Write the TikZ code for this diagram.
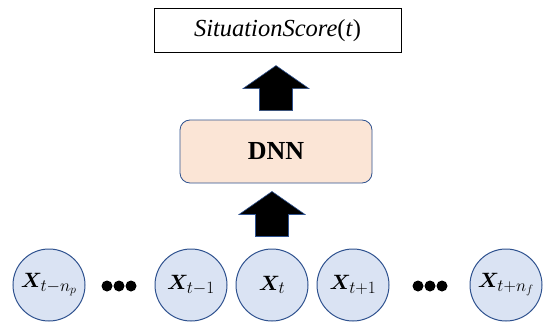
\documentclass[tikz,border=0pt]{standalone}
\usepackage{amsmath}
\usepackage{bm}
\usepackage{fontspec}
\setmainfont{Liberation Serif}
\usetikzlibrary{calc}
\DeclareMathSizes{20}{20}{16.5}{13}
\definecolor{circfill}{HTML}{DAE3F3}
\definecolor{darkblue}{HTML}{2F528F}
\definecolor{dnnfill}{HTML}{FBE5D6}
\begin{document}
\begin{tikzpicture}[x=1pt,y=1pt,
  scorebox/.style={draw=black,line width=1pt,fill=white,minimum width=247pt,minimum height=44pt,inner sep=0pt},
  dnnbox/.style={draw=darkblue,line width=0.8pt,fill=dnnfill,rounded corners=10pt,minimum width=192pt,minimum height=63pt,inner sep=0pt,font=\fontsize{26}{30}\selectfont\bfseries},
  xnode/.style={circle,draw=darkblue,line width=1pt,fill=circfill,minimum size=72pt,inner sep=0pt,font=\fontsize{20}{24}\selectfont},
  fatarrow/.style={fill=black,draw=darkblue,line width=0.6pt,line join=miter},
  dotnode/.style={circle,fill=black,minimum size=11pt,inner sep=0pt}
]
\useasboundingbox (0,0) rectangle (543,322);
\node[scorebox] (score) at (277.5,291) {\fontsize{24.5}{28}\selectfont\itshape SituationScore\textup{(}t\textup{)}};
\node[dnnbox] (dnn) at (276,170.5) {DNN};
\node[xnode] (x1) at (49,37) {$\bm{X}_{t-n_p}$};
\node[xnode] (x2) at (191,37) {$\bm{X}_{t-1}$};
\node[xnode] (x3) at (272,37) {$\bm{X}_{t}$};
\node[xnode] (x4) at (353,37) {$\bm{X}_{t+1}$};
\node[xnode] (x5) at (506,37) {$\bm{X}_{t+n_f}$};
\foreach \i/\xx in {a/107,b/119,c/131,d/418,e/430,f/442}
  \node[dotnode] (dot\i) at (\xx,36) {};
\newcommand\fatup[1]{\draw[fatarrow] (#1) ++(-16.5,0) -- ++(0,22) -- ++(-16.5,0) -- ++(33,23) -- ++(33,-23) -- ++(-16.5,0) -- ++(0,-22) -- cycle;}
\coordinate (a1) at ($(dnn.north)+(0,9)$);
\coordinate (a2) at ($(x3.north)+(0,12)$);
\fatup{a1}
\fatup{a2}
\end{tikzpicture}
\end{document}
